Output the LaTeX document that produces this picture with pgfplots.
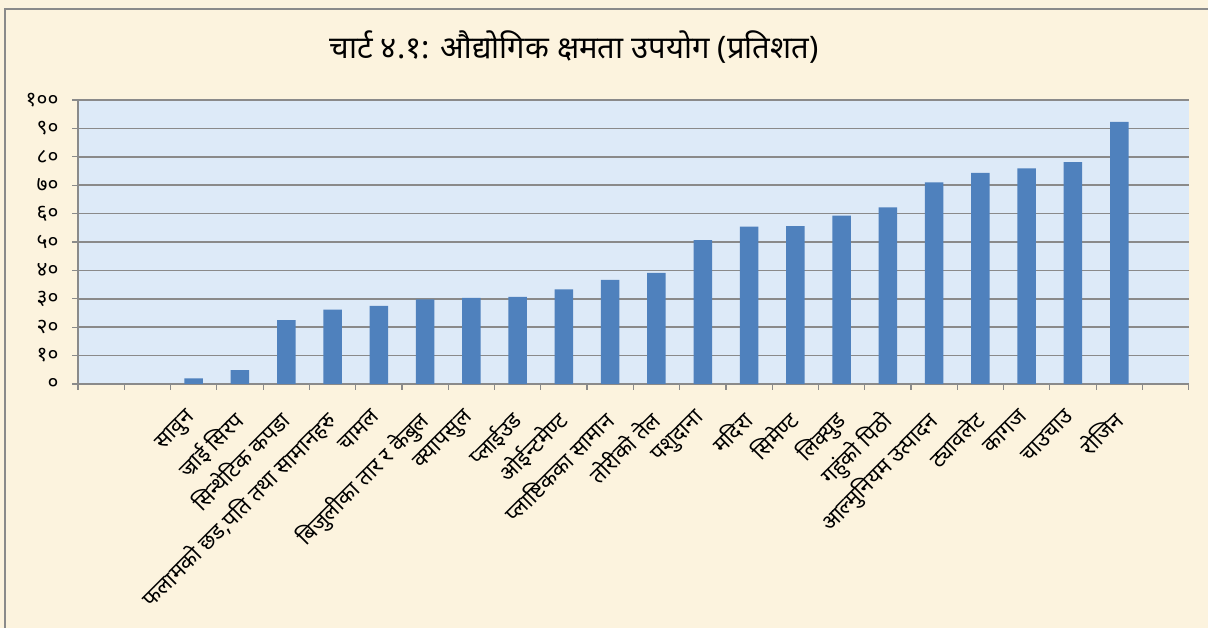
\documentclass[border=0pt]{standalone}
\usepackage{fontspec}
\setmainfont[Script=Devanagari]{Noto Sans}
\usepackage{pgfplots}
\pgfplotsset{compat=1.18}
\definecolor{parch}{RGB}{252,243,222}
\definecolor{plotbg}{RGB}{221,234,248}
\definecolor{barblue}{RGB}{79,129,189}
\definecolor{gridgray}{RGB}{138,138,138}
\begin{document}
\begin{tikzpicture}[x=1pt,y=1pt]
\fill[parch] (0,0) rectangle (1208,628);
\draw[gridgray, line width=1.5pt] (5,0) -- (5,619) -- (1208,619);
\node[font=\fontsize{31}{31}\selectfont] at (574,581) {चार्ट ४.१: औद्योगिक क्षमता उपयोग (प्रतिशत)};
\begin{axis}[
  at={(78pt,244pt)}, anchor=south west,
  scale only axis, width=1110.7pt, height=284pt,
  xmin=-0.5, xmax=23.5, ymin=0, ymax=100,
  axis background/.style={fill=plotbg},
  axis x line*=bottom, axis y line*=left,
  axis line style={gridgray, line width=1.3pt, -},
  ymajorgrids, grid style={gridgray, line width=1.5pt},
  tick align=outside, major tick length=6pt,
  tick style={gridgray, line width=1.2pt},
  ytick={0,10,...,100},
  yticklabels={०,१०,२०,३०,४०,५०,६०,७०,८०,९०,१००},
  yticklabel style={font=\fontsize{21}{21}\selectfont, xshift=-10pt},
  xtick={-0.5,0.5,...,23.5},
  xticklabels={},
  extra x ticks={2,...,22},
  extra x tick labels={सावुन,ज्राई सिरप,सिन्थेटिक कपडा,{फलामको छड,पति तथा सामानहरु},चामल,बिजुलीका तार र केबुल,क्यापसुल,प्लाईउड,ओईन्टमेण्ट,प्लाष्टिकका सामान,तोरीको तेल,पशुदाना,मदिरा,सिमेण्ट,लिक्युड,गहुंको पिठो,आल्मुनियम उत्पादन,ट्यावलेट,कागज,चाउचाउ,रोजिन},
  extra x tick style={major tick length=0pt, xticklabel style={rotate=45, anchor=north east, inner sep=0pt, font=\fontsize{22}{22}\selectfont, yshift=-11.2pt, xshift=-23.2pt}},
]
\addplot[ybar, fill=barblue, draw=none, bar width=18.5pt] coordinates {
(2,2.0) (3,4.9) (4,22.5) (5,26.2) (6,27.5) (7,29.8) (8,30.3) (9,30.7) (10,33.3) (11,36.7) (12,39.1)
(13,50.7) (14,55.4) (15,55.6) (16,59.3) (17,62.2) (18,71.0) (19,74.3) (20,75.9) (21,78.1) (22,92.3)};
\end{axis}
\pgfresetboundingbox
\useasboundingbox (0,0) rectangle (1208,628);
\end{tikzpicture}
\end{document}
